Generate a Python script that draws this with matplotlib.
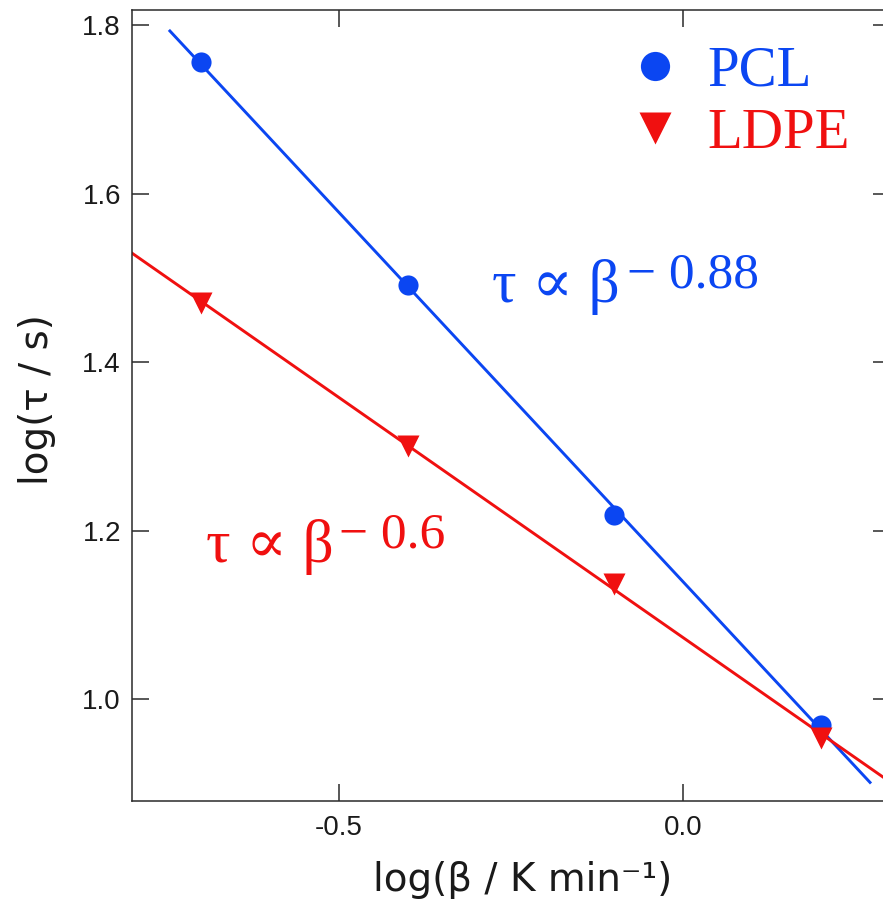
import numpy as np
import matplotlib
matplotlib.use("Agg")
import matplotlib.pyplot as plt

# data
log_beta = [-0.7, -0.4, -0.1, 0.2]
pcl_log_tau = [1.756, 1.491, 1.218, 0.969]
ldpe_log_tau = [1.470, 1.301, 1.137, 0.954]

# x-range covered by each fit line
pcl_fit_range = [-0.745, 0.271]
ldpe_fit_range = [-0.8, 0.3]

x_ticks = [-0.5, 0.0]
y_ticks = [1.0, 1.2, 1.4, 1.6, 1.8]

blue = '#0b46f2'
red = '#f01010'
spine_col = '#2a2a2a'

plt.rcParams['axes.unicode_minus'] = False

fig = plt.figure(figsize=(8.83, 9.06), dpi=100)
ax = fig.add_axes([132 / 883, 105 / 906, 758 / 883, 791 / 906])

# linear fits in log-log space
for y, rng, col in [(pcl_log_tau, pcl_fit_range, blue), (ldpe_log_tau, ldpe_fit_range, red)]:
    p = np.polyfit(log_beta, y, 1)
    xf = np.array(rng)
    ax.plot(xf, np.polyval(p, xf), color=col, lw=2.1, zorder=2)

h1, = ax.plot(log_beta, pcl_log_tau, 'o', color=blue, ms=14.5, mec='none', label='PCL', zorder=3)
h2, = ax.plot(log_beta, ldpe_log_tau, 'v', color=red, ms=16, mec='none', label='LDPE', zorder=4)

ax.set_xlim(-0.8, 0.3)
ax.set_ylim(0.879, 1.818)
ax.set_xticks(x_ticks)
ax.set_yticks(y_ticks)
ax.xaxis.set_major_formatter(matplotlib.ticker.FormatStrFormatter('%.1f'))
ax.yaxis.set_major_formatter(matplotlib.ticker.FormatStrFormatter('%.1f'))

for s in ax.spines.values():
    s.set_color(spine_col)
    s.set_linewidth(1.1)
ax.tick_params(direction='in', length=12, width=1.1, color=spine_col,
               top=True, right=True, labelsize=20, labelcolor='#1a1a1a')
ax.tick_params(axis='y', pad=8)
ax.tick_params(axis='x', pad=10)
for lab in ax.get_xticklabels() + ax.get_yticklabels():
    lab.set_family('Liberation Sans')

ax.set_xlabel('log(β / K min⁻¹)', fontsize=28, family='DejaVu Sans', color='#1a1a1a')
ax.set_ylabel('log(τ / s)', fontsize=28, family='DejaVu Sans', color='#1a1a1a')
ax.xaxis.set_label_coords(0.515, -0.1)
ax.yaxis.set_label_coords(-0.125, 0.507)
ax.xaxis.label.set_va('center')
ax.yaxis.label.set_va('center')

serif = ['Liberation Serif', 'DejaVu Serif']
ax.text(-0.277, 1.471, 'τ ∝ β', color=blue, fontsize=44, family=serif, va='baseline')
ax.text(-0.081, 1.489, '− 0.88', color=blue, fontsize=37, family=serif, va='baseline')
ax.text(-0.693, 1.163, 'τ ∝ β', color=red, fontsize=44, family=serif, va='baseline')
ax.text(-0.5, 1.180, '− 0.6', color=red, fontsize=37, family=serif, va='baseline')

leg = ax.legend(handles=[h1, h2], loc='upper left', bbox_to_anchor=(632 / 883, 1 - 46 / 906),
                bbox_transform=fig.transFigure, frameon=False, borderpad=0, borderaxespad=0,
                markerscale=1.45, handlelength=0.8, handletextpad=0.53, labelspacing=0.18,
                prop={'family': 'Liberation Serif', 'size': 41})
for t, c in zip(leg.get_texts(), [blue, red]):
    t.set_color(c)

fig.savefig('out.png', dpi=100)
